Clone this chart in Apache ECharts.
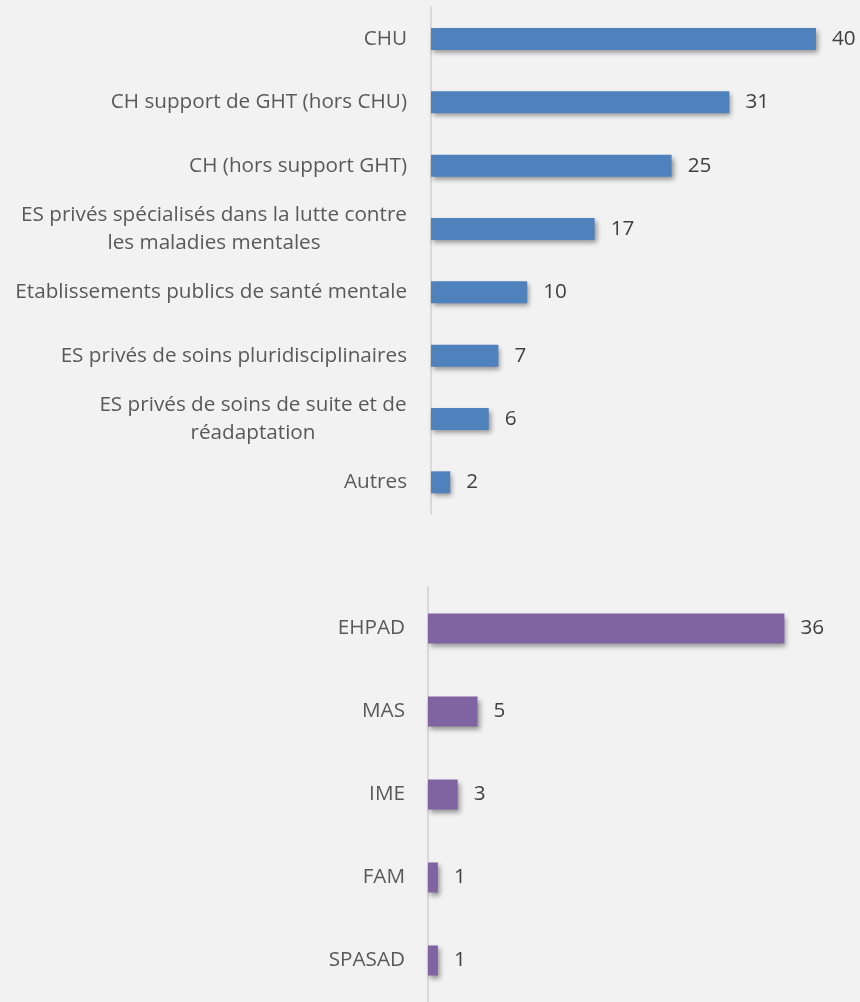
<!DOCTYPE html>
<html>
<head>
<meta charset="utf-8">
<script src="https://cdn.jsdelivr.net/npm/echarts@6/dist/echarts.min.js"></script>
<style>
  html, body { margin: 0; padding: 0; background: #f2f2f2; }
  #chart { width: 860px; height: 1002px; }
</style>
</head>
<body>
<div id="chart"></div>
<script>
var sanitaireCats = [
  'CHU',
  'CH support de GHT (hors CHU)',
  'CH (hors support GHT)',
  'ES privés spécialisés dans la lutte contre\nles maladies mentales',
  'Etablissements publics de santé mentale',
  'ES privés de soins pluridisciplinaires',
  'ES privés de soins de suite et de\nréadaptation',
  'Autres'
];
var sanitaireValues = [40, 31, 25, 17, 10, 7, 6, 2];

var medicoCats = ['EHPAD', 'MAS', 'IME', 'FAM', 'SPASAD'];
var medicoValues = [36, 5, 3, 1, 1];

var FONT = '"Open Sans", sans-serif';
var FS = 20.7;

// measure text so wrapped labels can be centred line by line (like Excel)
var ctx = document.createElement('canvas').getContext('2d');
ctx.font = FS + 'px "Open Sans"';
function textWidth(s) { return Math.ceil(ctx.measureText(s).width); }

var richStyles = {};
function catFormatter(value) {
  if (value.indexOf('\n') < 0) return value;
  var lines = value.split('\n');
  var w = Math.max.apply(null, lines.map(textWidth));
  var key = 'c' + w;
  richStyles[key] = { width: w, align: 'center', fontSize: FS, fontFamily: FONT, color: '#595959', lineHeight: 28 };
  return lines.map(function (l) { return '{' + key + '|' + l + '}'; }).join('\n');
}
sanitaireCats.forEach(catFormatter);

var myChart = echarts.init(document.getElementById('chart'));

function yAxis(idx, cats, margin) {
  return {
    type: 'category',
    gridIndex: idx,
    data: cats,
    inverse: true,
    axisTick: { show: false },
    axisLine: { show: true, lineStyle: { color: '#d9d9d9', width: 2 } },
    axisLabel: {
      margin: margin,
      fontSize: FS,
      fontFamily: FONT,
      color: '#595959',
      lineHeight: 28,
      formatter: catFormatter,
      rich: richStyles
    }
  };
}

function xAxis(idx) {
  return { type: 'value', gridIndex: idx, min: 0, max: 40, show: false };
}

function barSeries(idx, values, color, width) {
  return {
    type: 'bar',
    xAxisIndex: idx,
    yAxisIndex: idx,
    data: values,
    barWidth: width,
    itemStyle: {
      color: color,
      shadowColor: 'rgba(0,0,0,0.4)',
      shadowBlur: 5,
      shadowOffsetX: 2,
      shadowOffsetY: 3
    },
    label: {
      show: true,
      position: 'right',
      distance: 16,
      fontSize: FS,
      fontFamily: FONT,
      color: '#404040'
    },
    silent: true
  };
}

var option = {
  backgroundColor: '#f2f2f2',
  animation: false,
  grid: [
    { left: 431, top: 7.3, width: 385, height: 506.7 },
    { left: 428, top: 587, width: 396, height: 419 }
  ],
  xAxis: [xAxis(0), xAxis(1)],
  yAxis: [yAxis(0, sanitaireCats, 24), yAxis(1, medicoCats, 23)],
  series: [
    barSeries(0, sanitaireValues, '#4f81bd', 22),
    barSeries(1, medicoValues, '#8064a2', 30)
  ]
};

myChart.setOption(option);
</script>
</body>
</html>
